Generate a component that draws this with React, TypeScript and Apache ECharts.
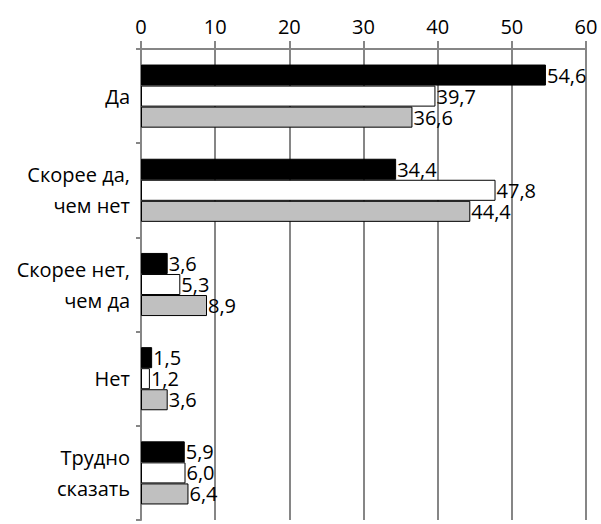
import React, { useEffect, useRef } from "react";
import * as echarts from "echarts";

const categories = ["Да", "Скорее да,\nчем нет", "Скорее нет,\nчем да", "Нет", "Трудно\nсказать"];
const seriesBlack = [54.6, 34.4, 3.6, 1.5, 5.9];
const seriesWhite = [39.7, 47.8, 5.3, 1.2, 6.0];
const seriesGray = [36.6, 44.4, 8.9, 3.6, 6.4];
const xTicks = { min: 0, max: 60, interval: 10 };

const FONT = "'Open Sans', 'Noto Sans', sans-serif";

export default function App() {
  const ref = useRef<HTMLDivElement>(null);
  useEffect(() => {
    if (!ref.current) return;
    const chart = echarts.init(ref.current, undefined, { renderer: "svg" });
    const label = {
      show: true,
      position: "right" as const,
      distance: 1,
      color: "#000",
      fontSize: 20,
      fontFamily: FONT,
      formatter: (p: any) => Number(p.value).toFixed(1).replace(".", ","),
    };
    const mk = (name: string, data: number[], color: string) => ({
      name,
      type: "bar",
      data,
      barGap: "0%",
      barCategoryGap: "33%",
      itemStyle: { color, borderColor: "#000", borderWidth: 1 },
      label,
    });
    chart.setOption({
      animation: false,
      grid: { left: 141, right: 15, top: 49, bottom: 4, containLabel: false },
      xAxis: {
        type: "value",
        position: "top",
        min: xTicks.min,
        max: xTicks.max,
        interval: xTicks.interval,
        axisLine: { show: true, lineStyle: { color: "#868686", width: 2 } },
        axisTick: { show: true, length: 8, lineStyle: { color: "#868686", width: 2 } },
        axisLabel: { color: "#000", fontSize: 20, fontFamily: FONT, margin: 13 },
        splitLine: { show: true, lineStyle: { color: "#868686", width: 2 } },
      },
      yAxis: {
        type: "category",
        data: categories,
        inverse: true,
        axisLine: { show: true, lineStyle: { color: "#868686", width: 2 } },
        axisTick: { show: true, length: 5, lineStyle: { color: "#868686", width: 2 } },
        axisLabel: { color: "#000", fontSize: 20, fontFamily: FONT, margin: 11, lineHeight: 31, align: "right" },
      },
      series: [
        mk("s1", seriesBlack, "#000000"),
        mk("s2", seriesWhite, "#ffffff"),
        mk("s3", seriesGray, "#c0c0c0"),
      ],
    });
    return () => chart.dispose();
  }, []);
  return <div ref={ref} style={{ width: 601, height: 524, position: "absolute", left: 0, top: 0, background: "#fff" }} />;
}
